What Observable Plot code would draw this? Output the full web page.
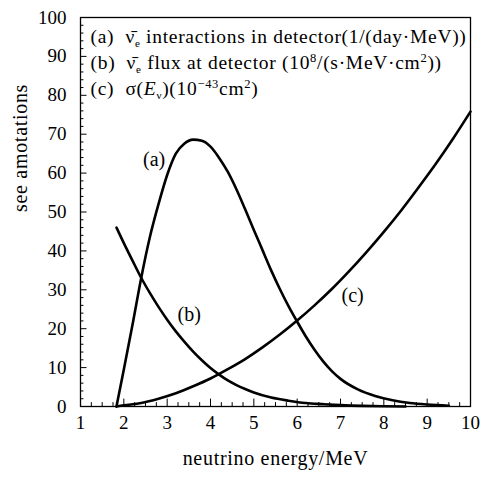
<!DOCTYPE html>
<html>
<head>
<meta charset="utf-8">
<script src="https://cdn.jsdelivr.net/npm/d3@7"></script>
<script src="https://cdn.jsdelivr.net/npm/@observablehq/plot@0.6"></script>
<style>
  html, body { margin: 0; padding: 0; background: white; }
  svg, svg text { font-family: "Liberation Serif", "Times New Roman", serif !important; }
  svg text.spaced { letter-spacing: 0.7px; }
</style>
</head>
<body>
<div id="chart"></div>
<script>
// Curve (a): interactions in detector
const aE = [1.83, 2.0, 2.2, 2.4, 2.6, 2.8, 3.0, 3.2, 3.4, 3.6, 3.8, 4.0, 4.2, 4.4, 4.6, 4.8, 5.0, 5.2, 5.4, 5.6, 5.8, 6.0, 6.2, 6.4, 6.6, 6.8, 7.0, 7.4, 7.8, 8.2, 8.6, 9.0, 9.5];
const aV = [0, 9.5, 21, 33, 43.5, 52, 59.5, 65, 67.6, 68.6, 68.3, 66.8, 63.9, 60.3, 55.8, 50.7, 45.4, 40.2, 35.0, 30.2, 25.8, 21.8, 18.0, 14.6, 11.6, 9.1, 7.1, 4.4, 2.7, 1.6, 0.9, 0.5, 0.2];
// Curve (b): flux at detector
const bE = [1.83, 2.0, 2.2, 2.4, 2.6, 2.8, 3.0, 3.2, 3.4, 3.6, 3.8, 4.0, 4.2, 4.4, 4.6, 4.8, 5.0, 5.4, 5.8, 6.2, 6.6, 7.0, 7.5, 8.0, 8.5];
const bV = [46.0, 42.0, 37.5, 33.1, 29.2, 25.6, 22.3, 19.3, 16.6, 14.1, 11.9, 9.9, 8.2, 6.7, 5.5, 4.5, 3.6, 2.3, 1.5, 0.9, 0.6, 0.35, 0.15, 0.05, 0];
// Curve (c): cross section
const cE = [1.83, 2.0, 2.4, 2.8, 3.2, 3.6, 4.0, 4.4, 4.8, 5.2, 5.6, 6.0, 6.4, 6.8, 7.2, 7.6, 8.0, 8.4, 8.8, 9.2, 9.6, 10];
const cV = [0, 0.3, 0.9, 2.0, 3.4, 5.2, 7.2, 9.6, 12.2, 15.2, 18.5, 22.1, 26.0, 30.2, 34.8, 39.7, 44.9, 50.4, 56.3, 62.4, 68.9, 75.8];

const xTicks = [1, 2, 3, 4, 5, 6, 7, 8, 9, 10];
const yTicks = [0, 10, 20, 30, 40, 50, 60, 70, 80, 90, 100];
const xMinor = d3.range(1, 10.001, 0.25).filter(v => Math.abs(v - Math.round(v)) > 1e-6);
const yMinor = d3.range(0, 100.001, 2).filter(v => v % 10 !== 0);

const curveNames = ["(a)", "(b)", "(c)"];
const curveLabelX = [2.70, 3.51, 7.28];
const curveLabelY = [63.4, 23.5, 28.6];

const xTitle = "neutrino energy/MeV";
const yTitle = "see amotations";

// legend lines as rich segments
const legendLines = [
  [{t: "(a)  "}, {t: "\u03BD\u0304"}, {t: "e", sub: true}, {t: " interactions in detector(1/(day\u00B7MeV))"}],
  [{t: "(b)  "}, {t: "\u03BD\u0304"}, {t: "e", sub: true}, {t: " flux at detector (10"}, {t: "8", sup: true}, {t: "/(s\u00B7MeV\u00B7cm"}, {t: "2", sup: true}, {t: "))"}],
  [{t: "(c)  \u03C3("}, {t: "E", it: true}, {t: "\u03BD", sub: true}, {t: ")(10"}, {t: "\u221243", sup: true}, {t: "cm"}, {t: "2", sup: true}, {t: ")"}]
];
const legendPlain = legendLines.map(l => l.map(s => s.t).join(""));

const aData = aE.map((e, i) => ({e, v: aV[i]}));
const bData = bE.map((e, i) => ({e, v: bV[i]}));
const cData = cE.map((e, i) => ({e, v: cV[i]}));
const labelData = curveNames.map((n, i) => ({n, x: curveLabelX[i], y: curveLabelY[i]}));

const font = "Liberation Serif";

const plot = Plot.plot({
  width: 482,
  height: 481,
  marginLeft: 80,
  marginRight: 12,
  marginTop: 17,
  marginBottom: 75,
  x: {domain: [1, 10]},
  y: {domain: [0, 100]},
  style: {fontFamily: font, fontSize: "18px", background: "white", color: "black", overflow: "visible"},
  marks: [
    // inward ticks
    Plot.ruleX(xMinor, {x: d => d, y1: 0, y2: 1.0, stroke: "black", strokeWidth: 1}),
    Plot.ruleX(xTicks, {x: d => d, y1: 0, y2: 1.9, stroke: "black", strokeWidth: 1}),
    Plot.ruleY(yMinor, {y: d => d, x1: 1, x2: 1.08, stroke: "black", strokeWidth: 1}),
    Plot.ruleY(yTicks, {y: d => d, x1: 1, x2: 1.15, stroke: "black", strokeWidth: 1}),
    Plot.axisX({ticks: xTicks, tickSize: 0, tickPadding: 9, label: null, fontSize: 19, fontFamily: font}),
    Plot.axisY({ticks: yTicks, tickSize: 0, tickPadding: 14, label: null, fontSize: 19, fontFamily: font}),
    Plot.line(aData, {x: "e", y: "v", curve: "monotone-x", stroke: "black", strokeWidth: 2.6}),
    Plot.line(bData, {x: "e", y: "v", curve: "monotone-x", stroke: "black", strokeWidth: 2.6}),
    Plot.line(cData, {x: "e", y: "v", curve: "monotone-x", stroke: "black", strokeWidth: 2.6}),
    Plot.frame({stroke: "black", strokeWidth: 1.3}),
    Plot.text(labelData, {x: "x", y: "y", text: "n", fontSize: 20, fontFamily: font, fill: "black"}),
    Plot.text([legendPlain[0]], {frameAnchor: "top-left", dx: 10, dy: 19, lineAnchor: "middle", textAnchor: "start", fontSize: 19.5, fontFamily: font, fill: "black"}),
    Plot.text([legendPlain[1]], {frameAnchor: "top-left", dx: 10, dy: 45, lineAnchor: "middle", textAnchor: "start", fontSize: 19.5, fontFamily: font, fill: "black"}),
    Plot.text([legendPlain[2]], {frameAnchor: "top-left", dx: 10, dy: 71, lineAnchor: "middle", textAnchor: "start", fontSize: 19.5, fontFamily: font, fill: "black"}),
    Plot.text([xTitle], {frameAnchor: "bottom", dy: 52, lineAnchor: "middle", fontSize: 20, fontFamily: font, fill: "black"}),
    Plot.text([yTitle], {frameAnchor: "left", dx: -60, rotate: -90, lineAnchor: "middle", fontSize: 20, fontFamily: font, fill: "black"})
  ]
});

document.getElementById("chart").appendChild(plot);

// rebuild legend texts with sub/superscripts; add spacing to titles and legend
d3.select(plot).selectAll("text").each(function() {
  const content = this.textContent;
  if (content === xTitle || content === yTitle) {
    d3.select(this).classed("spaced", true);
    return;
  }
  const idx = legendPlain.indexOf(content);
  if (idx < 0) return;
  const el = d3.select(this);
  el.classed("spaced", true);
  el.text(null);
  let shift = 0;
  for (const seg of legendLines[idx]) {
    const ts = el.append("tspan").text(seg.t);
    let target = 0;
    if (seg.sub) target = 4;
    if (seg.sup) target = -7;
    const dy = target - shift;
    if (dy !== 0) ts.attr("dy", dy);
    shift = target;
    if (seg.sub) ts.attr("font-size", "11px");
    if (seg.sup) ts.attr("font-size", "12.5px");
    if (seg.it) ts.attr("font-style", "italic");
  }
});
</script>
</body>
</html>
